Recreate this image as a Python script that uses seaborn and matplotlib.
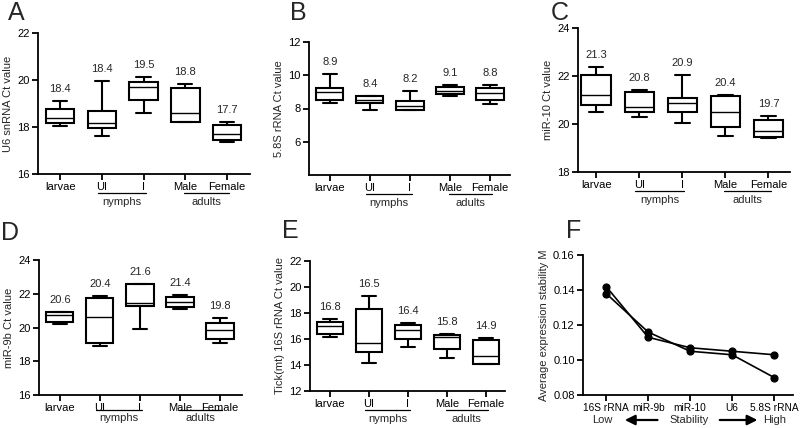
import numpy as np
import pandas as pd
import seaborn as sns
import matplotlib.pyplot as plt
from matplotlib.transforms import ScaledTranslation

stages = ["larvae", "UI", "I", "Male", "Female"]

# five-number summaries: min, q1, median, q3, max
u6_ct = [
    [18.03, 18.16, 18.37, 18.75, 19.12],
    [17.63, 17.97, 18.16, 18.70, 19.94],
    [18.58, 19.15, 19.70, 19.93, 20.13],
    [18.20, 18.23, 18.60, 19.65, 19.84],
    [17.38, 17.45, 17.70, 18.08, 18.20],
]
u6_mean = [18.4, 18.4, 19.5, 18.8, 17.7]

rrna58_ct = [
    [8.33, 8.50, 8.98, 9.22, 10.08],
    [7.89, 8.33, 8.53, 8.73, 8.77],
    [7.91, 7.93, 8.13, 8.43, 9.06],
    [8.77, 8.85, 9.08, 9.28, 9.40],
    [8.29, 8.50, 8.95, 9.24, 9.40],
]
rrna58_mean = [8.9, 8.4, 8.2, 9.1, 8.8]

mir10_ct = [
    [20.50, 20.78, 21.19, 22.06, 22.38],
    [20.28, 20.48, 20.72, 21.35, 21.43],
    [20.04, 20.49, 20.86, 21.10, 22.04],
    [19.52, 19.86, 20.50, 21.15, 21.19],
    [19.42, 19.44, 19.69, 20.16, 20.32],
]
mir10_mean = [21.3, 20.8, 20.9, 20.4, 19.7]

mir9b_ct = [
    [20.18, 20.30, 20.73, 20.91, 20.93],
    [18.91, 19.07, 20.61, 21.72, 21.88],
    [19.90, 21.26, 21.44, 22.59, 22.59],
    [21.07, 21.20, 21.52, 21.78, 21.94],
    [19.11, 19.31, 19.84, 20.28, 20.55],
]
mir9b_mean = [20.6, 20.4, 21.6, 21.4, 19.8]

rrna16s_ct = [
    [16.13, 16.36, 17.00, 17.31, 17.57],
    [14.17, 15.02, 15.67, 18.34, 19.34],
    [15.36, 16.03, 16.69, 17.08, 17.23],
    [14.56, 15.25, 16.15, 16.31, 16.41],
    [14.05, 14.10, 14.71, 15.90, 16.05],
]
rrna16s_mean = [16.8, 16.5, 16.4, 15.8, 14.9]

genes = ["16S rRNA", "miR-9b", "miR-10", "U6", "5.8S rRNA"]
stability_run1 = [0.142, 0.113, 0.107, 0.105, 0.103]
stability_run2 = [0.138, 0.116, 0.105, 0.103, 0.090]

sns.set_style("ticks")
plt.rcParams["font.family"] = ["Liberation Sans", "DejaVu Sans"]
plt.rcParams["axes.linewidth"] = 1.3
plt.rcParams["xtick.major.width"] = 1.3
plt.rcParams["ytick.major.width"] = 1.3
plt.rcParams["xtick.major.size"] = 4
plt.rcParams["ytick.major.size"] = 4
plt.rcParams["xtick.color"] = "black"
plt.rcParams["ytick.color"] = "black"
plt.rcParams["axes.edgecolor"] = "black"

W, H = 800, 428
fig = plt.figure(figsize=(8, 4.28), dpi=100)


def px_axes(left, top, right, bottom):
    return fig.add_axes([left / W, 1 - bottom / H, (right - left) / W, (bottom - top) / H])


def style_axes(ax, ylim, yticks, xlim, xsize=8):
    sns.despine(ax=ax)
    ax.set_ylim(*ylim)
    ax.set_yticks(yticks)
    ax.set_xlim(*xlim)
    ax.tick_params(labelsize=8, colors="black", pad=2)
    ax.tick_params(axis="x", labelsize=xsize)
    ax.set_xlabel("")


def box_panel(ax, values, means, ylabel, ylim, yticks, xlim, off=(19, 28)):
    df = pd.DataFrame({"stage": np.repeat(stages, 5), "ct": np.ravel(values)})
    sns.boxplot(
        data=df, x="stage", y="ct", order=stages, ax=ax,
        whis=(0, 100), width=0.68, color="white", linecolor="black",
        linewidth=1.5, saturation=1, capwidths=0.34,
        medianprops=dict(linewidth=1.0),
    )
    for i, (v, m) in enumerate(zip(values, means)):
        ax.annotate(f"{m:.1f}", xy=(i, max(v)), xytext=(0, 5),
                    textcoords="offset points", ha="center", va="bottom",
                    fontsize=8)
    style_axes(ax, ylim, yticks, xlim)
    ax.set_ylabel(ylabel, fontsize=8, labelpad=3)

    line_tr = ax.get_xaxis_transform() + ScaledTranslation(0, -off[0] / 100, fig.dpi_scale_trans)
    text_tr = ax.get_xaxis_transform() + ScaledTranslation(0, -off[1] / 100, fig.dpi_scale_trans)
    for (x0, x1), name in [((0.9, 2.05), "nymphs"), ((2.97, 4.05), "adults")]:
        ax.plot([x0, x1], [0, 0], color="black", lw=0.9, transform=line_tr, clip_on=False)
        ax.text((x0 + x1) / 2, 0, name, transform=text_tr, ha="center", va="center", fontsize=8)


ax_a = px_axes(38, 33, 250, 174)
box_panel(ax_a, u6_ct, u6_mean, "U6 snRNA Ct value", (16, 22), [16, 18, 20, 22], (-0.53, 4.55))

ax_b = px_axes(309, 42, 510, 175)
box_panel(ax_b, rrna58_ct, rrna58_mean, "5.8S rRNA Ct value", (4, 12), [6, 8, 10, 12], (-0.52, 4.5))

ax_c = px_axes(578, 28, 790, 172)
box_panel(ax_c, mir10_ct, mir10_mean, "miR-10 Ct value", (18, 24), [18, 20, 22, 24], (-0.42, 4.5))

ax_d = px_axes(39, 260, 242, 395)
box_panel(ax_d, mir9b_ct, mir9b_mean, "miR-9b Ct value", (16, 24), [16, 18, 20, 22, 24], (-0.52, 4.55), off=(15, 23))

ax_e = px_axes(310, 261, 505, 391)
box_panel(ax_e, rrna16s_ct, rrna16s_mean, "Tick(mt) 16S rRNA Ct value", (12, 22), [12, 14, 16, 18, 20, 22], (-0.51, 4.49))

# panel F: geNorm stability
ax_f = px_axes(583, 255, 793, 395)
fdf = pd.DataFrame({
    "gene": genes * 2,
    "M": stability_run1 + stability_run2,
    "run": ["1"] * 5 + ["2"] * 5,
})
sns.pointplot(data=fdf, x="gene", y="M", hue="run", order=genes,
              palette=["black", "black"], markers="o", markersize=5,
              linewidth=1.2, legend=False, ax=ax_f)
style_axes(ax_f, (0.08, 0.16), [0.08, 0.10, 0.12, 0.14, 0.16], (-0.55, 4.45), xsize=7.3)
ax_f.set_yticklabels([f"{t:.2f}" for t in [0.08, 0.10, 0.12, 0.14, 0.16]])
ax_f.set_ylabel("Average expression stability M", fontsize=8, labelpad=3)

low_tr = ax_f.get_xaxis_transform() + ScaledTranslation(0, -25 / 100, fig.dpi_scale_trans)
ax_f.text(-0.1, 0, "Low", transform=low_tr, ha="center", va="center", fontsize=8)
ax_f.text(1.98, 0, "Stability", transform=low_tr, ha="center", va="center", fontsize=8)
ax_f.text(4.02, 0, "High", transform=low_tr, ha="center", va="center", fontsize=8)
arrow = dict(arrowstyle="-|>,head_length=0.6,head_width=0.3", color="black", lw=1.6)
ax_f.annotate("", xy=(0.38, 0), xytext=(1.29, 0), xycoords=low_tr, textcoords=low_tr, arrowprops=arrow)
ax_f.annotate("", xy=(3.67, 0), xytext=(2.64, 0), xycoords=low_tr, textcoords=low_tr, arrowprops=arrow)

for letter, (x, y) in zip("ABCDEF", [(16, 12.5), (298, 12.5), (560, 13), (10, 233), (290, 231), (574, 231)]):
    fig.text(x / W, 1 - y / H, letter, fontsize=18, ha="center", va="center")

fig.savefig("out.png", dpi=100)
